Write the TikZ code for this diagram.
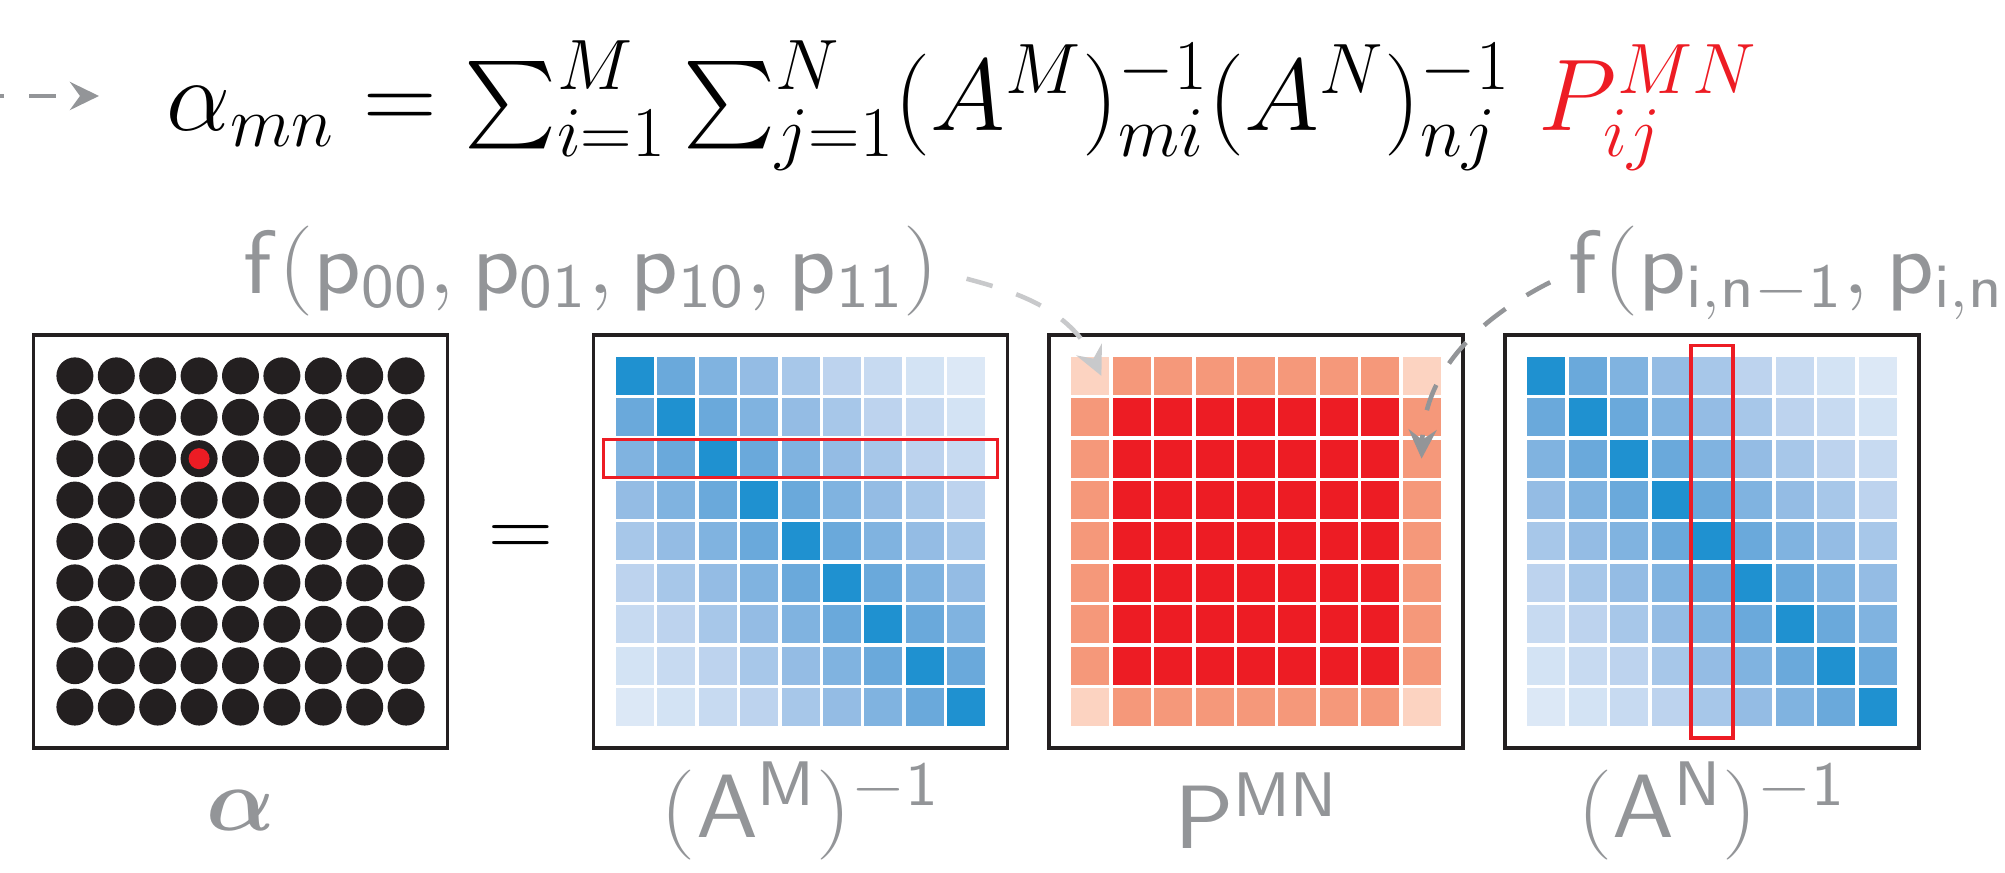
\RequirePackage{fix-cm}
\documentclass[tikz,border=0pt]{standalone}
\usepackage{exscale}
\usepackage{bm}
\usepackage{xcolor}
\usetikzlibrary{arrows.meta,calc}

\definecolor{ink}{RGB}{35,31,32}
\definecolor{labgray}{RGB}{147,149,152}
\definecolor{softgray}{RGB}{200,201,203}
\definecolor{pred}{RGB}{237,28,36}
% P^MN shades: interior, edge, corner
\definecolor{pm0}{RGB}{237,28,36}
\definecolor{pm1}{RGB}{245,152,122}
\definecolor{pm2}{RGB}{252,211,193}
% inverse matrix shades by distance from the diagonal
\definecolor{mb0}{RGB}{31,145,208}
\definecolor{mb1}{RGB}{106,169,219}
\definecolor{mb2}{RGB}{128,179,224}
\definecolor{mb3}{RGB}{148,188,228}
\definecolor{mb4}{RGB}{167,199,233}
\definecolor{mb5}{RGB}{189,211,238}
\definecolor{mb6}{RGB}{199,218,241}
\definecolor{mb7}{RGB}{211,227,244}
\definecolor{mb8}{RGB}{220,232,246}

% wide sans labels
\newcommand{\widesf}[1]{\scalebox{1.1}[1]{#1}}

\tikzset{
    panel/.style={draw=ink, line width=1pt, minimum width=4.14cm, minimum height=4.13cm, inner sep=0pt},
    cell/.style={minimum size=0.38cm, inner sep=0pt, outer sep=0pt},
    dot/.style={circle, fill=ink, minimum size=0.37cm, inner sep=0pt},
    big/.style={font=\fontsize{25.6}{30}\selectfont, inner sep=0pt},
    eqfont/.style={font=\fontsize{29}{34}\selectfont, inner sep=0pt},
    lab/.style={big, text=labgray},
    flow/.style={line width=1.3pt, dash pattern=on 0.27cm off 0.25cm, -{Stealth[length=0.29cm, width=0.28cm, inset=0.1cm]}},
    hl/.style={draw=pred, line width=0.9pt}
}

\begin{document}
\begin{tikzpicture}
        \useasboundingbox (0,0) rectangle (20.05,8.73);

        % Formula
        \node[eqfont, anchor=base west] (eq) at (1.66,7.42) {$\alpha_{mn} = \sum_{i=1}^{M} \sum_{j=1}^{N} (A^{M})^{-1}_{mi} (A^{N})^{-1}_{nj}\; \textcolor{pred}{P^{MN}_{ij}}$};
        \coordinate (feed) at (-0.23,7.77);
        \draw[flow, labgray, shorten >=0.67cm] (feed) -- (feed -| eq.west);

        % Boxes
        \node[panel] (boxalpha) at (2.405,3.315) {};
        \node[panel] (boxAM) at (8.005,3.315) {};
        \node[panel] (boxP) at (12.56,3.315) {};
        \node[panel] (boxAN) at (17.12,3.315) {};

        \node[big] (eqsign) at ($(boxalpha.east)!0.5!(boxAM.west)$) {$=$};

        % Coefficient dots
        \foreach \r in {0,...,8}
            \foreach \c in {0,...,8}
                \node[dot] (a-\r-\c) at ([shift={(\c*0.414-1.656,1.656-\r*0.414)}]boxalpha.center) {};
        \node[dot, fill=pred, minimum size=0.21cm] (pick) at (a-2-3) {};

        % Matrices
        \foreach \r in {0,...,8}
            \foreach \c in {0,...,8} {
                \pgfmathtruncatemacro\d{abs(\r-\c)}
                \pgfmathtruncatemacro\e{(\r==0)+(\r==8)+(\c==0)+(\c==8)}
                \node[cell, fill=mb\d] (AM-\r-\c) at ([shift={(\c*0.414-1.656,1.656-\r*0.414)}]boxAM.center) {};
                \node[cell, fill=pm\e] (P-\r-\c) at ([shift={(\c*0.414-1.656,1.656-\r*0.414)}]boxP.center) {};
                \node[cell, fill=mb\d] (AN-\r-\c) at ([shift={(\c*0.414-1.656,1.656-\r*0.414)}]boxAN.center) {};
            }

        % Row and column picked
        \draw[hl] ([xshift=-0.12cm]AM-2-0.north west) rectangle ([xshift=0.12cm]AM-2-8.south east);
        \draw[hl] ([shift={(-0.02cm,0.11cm)}]AN-0-4.north west) rectangle ([shift={(0.02cm,-0.12cm)}]AN-8-4.south east);

        % Boundary functions
        \node[lab, anchor=base west] (fleft) at (2.43,5.79) {\widesf{$\mathsf{f}(\mathsf{p}_{\mathsf{00}}, \mathsf{p}_{\mathsf{01}}, \mathsf{p}_{\mathsf{10}}, \mathsf{p}_{\mathsf{11}})$}};
        \node[lab, anchor=base west] (fright) at (15.68,5.79) {\widesf{$\mathsf{f}(\mathsf{p}_{\mathsf{i},\mathsf{n}-\mathsf{1}}, \mathsf{p}_{\mathsf{i},\mathsf{n}})$}};

        \draw[flow, softgray, shorten <=0.28cm] (fleft.east) to[out=-15, in=115] ([xshift=0.11cm]P-0-0.center);
        \draw[flow, labgray, shorten <=0.2cm] (fright.west) to[out=-153, in=88] (P-2-8.center);

        % Labels
        \node[lab, anchor=base] (labalpha) at (2.405,0.42) {$\bm{\alpha}$};
        \node[lab, anchor=base] (labAM) at (8.005,0.35) {\widesf{$(\mathsf{A}^{\mathsf{M}})^{-\mathsf{1}}$}};
        \node[lab, anchor=base] (labP) at (12.56,0.24) {\widesf{$\mathsf{P}^{\mathsf{MN}}$}};
        \node[lab, anchor=base] (labAN) at (17.12,0.35) {\widesf{$(\mathsf{A}^{\mathsf{N}})^{-\mathsf{1}}$}};

\end{tikzpicture}
\end{document}
